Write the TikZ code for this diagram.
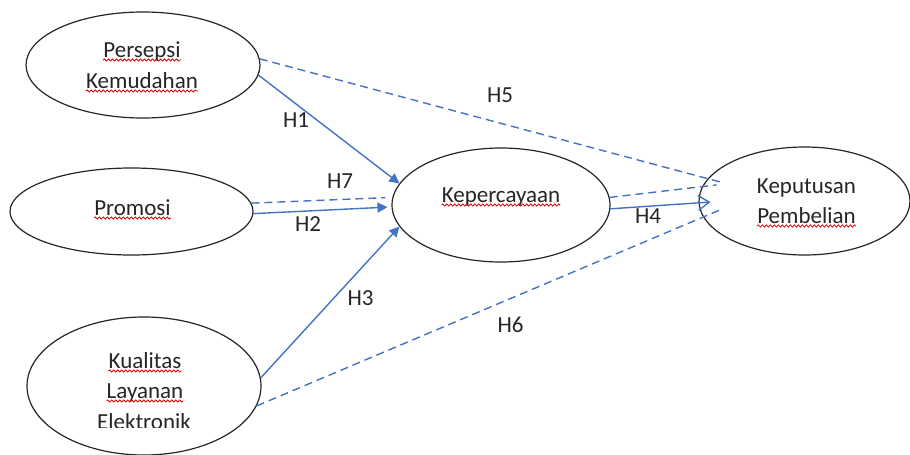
\documentclass[tikz,border=0pt]{standalone}
\usepackage{fontspec}
\setmainfont{Carlito}
\usepackage{xcolor}
\usepackage{tikz}
\usetikzlibrary{arrows.meta, shapes.geometric, decorations.pathmorphing}

\definecolor{pathblue}{HTML}{4472C4}
\definecolor{inkgray}{HTML}{262626}

\begin{document}
\begin{tikzpicture}[
  x=1pt, y=-1pt,
  var/.style={ellipse, draw=inkgray, line width=1.2pt, inner sep=0pt},
  word/.style={anchor=base, inner sep=0pt, text=inkgray, font=\fontsize{23}{27}\selectfont},
  hlabel/.style={text=inkgray, inner sep=0pt, font=\fontsize{23}{27}\selectfont},
  link/.style={draw=pathblue, line width=1.4pt},
  arrow/.style={link, -{Triangle[length=10pt, width=10pt]}},
  openarrow/.style={link, -{Straight Barb[length=11pt, width=15pt]}},
  dashlink/.style={link, dash pattern=on 8pt off 5pt},
  spell/.style={draw=red!85!black, line width=0.8pt, decorate, decoration={snake, amplitude=1.1pt, segment length=4pt}},
]
\useasboundingbox[fill=white] (0,0) rectangle (910,455);

% Variables
\node[var, minimum width=234pt, minimum height=106pt] (pk) at (143,65) {};
\node[var, minimum width=243pt, minimum height=87pt] (pr) at (131.5,211.5) {};
\node[var, minimum width=234pt, minimum height=138pt] (kl) at (144,386) {};
\node[var, minimum width=218pt, minimum height=114pt] (kp) at (501,205) {};
\node[var, minimum width=211pt, minimum height=108pt] (pb) at (804.5,201) {};

% Texts
\node[word] (pk1) at (142,57) {Persepsi};
\node[word] (pk2) at (142,88) {Kemudahan};
\node[word] (pr1) at (132.5,215) {Promosi};
\node[word] (kl1) at (145,368) {Kualitas};
\node[word] (kl2) at (145,398) {Layanan};
\begin{scope}
  \clip (0,0) rectangle (910,427.5);
  \node[word] (kl3) at (144,429.5) {Elektronik};
\end{scope}
\node[word] (kp1) at (501,202) {Kepercayaan};
\node[word] (pb1) at (806.5,193) {Keputusan};
\node[word] (pb2) at (806.5,223) {Pembelian};

% Spelling marks
\foreach \t in {pk1, pk2, pr1, kl1, kl2, kp1, pb2}
  \draw[spell] ([yshift=-3pt]\t.base west) -- ([yshift=-3pt]\t.base east);

% Paths
\draw[arrow] (pk.-5) -- (kp.168.6);
\draw[dashlink, shorten >=-15pt] (pk.3.4) -- (pb.167.5);
\draw[dashlink, shorten >=7pt] (pr.4.5) -- (kp.176.5);
\draw[arrow, shorten >=4pt] (pr.-1) -- (kp.181);
\draw[arrow] (kl.4.7) -- (kp.192);
\draw[openarrow, shorten >=-12pt] (kp.-2.6) -- (pb.181.2);
\draw[dashlink, shorten >=-14.5pt] (kp.4.4) -- (pb.172.2);
\draw[dashlink, shorten >=-19pt] (kl.-10.7) -- (pb.189.7);

% Labels
\node[hlabel] (h1) at (296,120) {H1};
\node[hlabel] (h2) at (308,224) {H2};
\node[hlabel] (h3) at (360.5,298) {H3};
\node[hlabel] (h4) at (648,216) {H4};
\node[hlabel] (h5) at (500,95) {H5};
\node[hlabel] (h6) at (510.5,325) {H6};
\node[hlabel] (h7) at (340,181) {H7};

\end{tikzpicture}
\end{document}
